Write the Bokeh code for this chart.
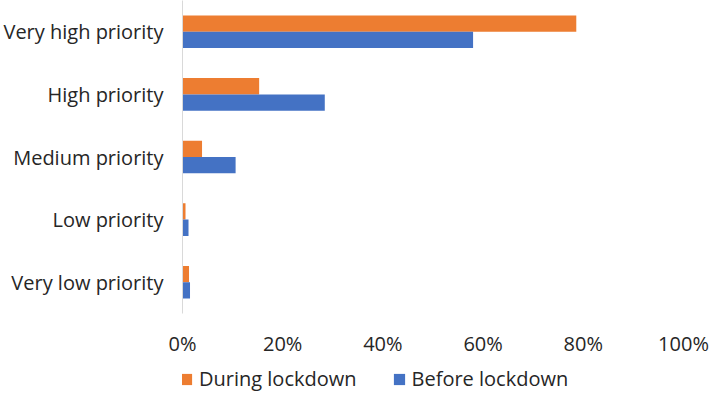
from bokeh.plotting import figure
from bokeh.layouts import column
from bokeh.models import (FactorRange, Range1d, FixedTicker, PrintfTickFormatter,
                          Legend, LegendItem, ColumnDataSource)
from bokeh.transform import dodge
from bokeh.embed import file_html
from bokeh.resources import INLINE

categories = ["Very high priority", "High priority", "Medium priority",
              "Low priority", "Very low priority"]
during_lockdown = [78.6, 15.3, 3.9, 0.6, 1.3]
before_lockdown = [58.0, 28.4, 10.6, 1.2, 1.5]
x_ticks = [0, 20, 40, 60, 80, 100]
series_names = ["During lockdown", "Before lockdown"]
series_colors = ["#ED7D31", "#4472C4"]

FONT = "Open Sans"
TEXT_COLOR = "#262626"

src = ColumnDataSource(dict(cat=categories, during=during_lockdown, before=before_lockdown))

p = figure(width=709, height=359,
           y_range=FactorRange(*reversed(categories)),
           x_range=Range1d(0, 100),
           output_backend="svg", toolbar_location=None,
           min_border_left=177, min_border_right=26,
           min_border_top=0, min_border_bottom=0)
p.outline_line_color = None
p.xgrid.visible = False
p.ygrid.visible = False
p.background_fill_color = "white"
p.border_fill_color = "white"

bar_h = 0.26
r1 = p.hbar(y=dodge("cat", bar_h / 2, range=p.y_range), left=0, right="during",
            height=bar_h, source=src, fill_color=series_colors[0], line_color=None)
r2 = p.hbar(y=dodge("cat", -bar_h / 2, range=p.y_range), left=0, right="before",
            height=bar_h, source=src, fill_color=series_colors[1], line_color=None)

# x axis
p.xaxis.ticker = FixedTicker(ticks=x_ticks)
p.xaxis.formatter = PrintfTickFormatter(format="%d%%")
p.xaxis.axis_line_color = None
p.xaxis.major_tick_line_color = None
p.xaxis.minor_tick_line_color = None
p.xaxis.major_tick_out = 0
p.xaxis.major_tick_in = 0
p.xaxis.major_label_standoff = 16
p.xaxis.major_label_text_font = FONT
p.xaxis.major_label_text_font_size = "20px"
p.xaxis.major_label_text_color = TEXT_COLOR

# y axis
p.yaxis.axis_line_color = "#d9d9d9"
p.yaxis.axis_line_width = 1
p.yaxis.major_tick_line_color = None
p.yaxis.minor_tick_line_color = None
p.yaxis.major_tick_out = 0
p.yaxis.major_tick_in = 0
p.yaxis.major_label_standoff = 19
p.yaxis.major_label_text_font = FONT
p.yaxis.major_label_text_font_size = "20px"
p.yaxis.major_label_text_color = TEXT_COLOR

# legend strip below the chart (its keys come from hidden copies of the two series)
lf = figure(width=709, height=33, x_range=Range1d(0, 100),
            y_range=FactorRange(*reversed(categories)),
            x_axis_location=None,
            output_backend="svg", toolbar_location=None,
            min_border_left=0, min_border_right=0, min_border_top=0, min_border_bottom=0)
lf.axis.visible = False
lf.grid.visible = False
lf.outline_line_color = None
lr1 = lf.hbar(y="cat", left=0, right="during", height=bar_h, source=src,
              fill_color=series_colors[0], line_color=None, visible=False)
lr2 = lf.hbar(y="cat", left=0, right="before", height=bar_h, source=src,
              fill_color=series_colors[1], line_color=None, visible=False)

legend = Legend(items=[LegendItem(label=series_names[0], renderers=[lr1]),
                       LegendItem(label=series_names[1], renderers=[lr2])],
                orientation="horizontal", location=(-3, 0),
                glyph_width=14, glyph_height=14, label_standoff=6, spacing=35,
                padding=0, margin=0, border_line_color=None,
                background_fill_alpha=0,
                label_text_font=FONT, label_text_font_size="20px",
                label_text_color=TEXT_COLOR)
lf.add_layout(legend)

layout = column(p, lf, spacing=0)
open("out.html", "w").write(file_html(layout, INLINE))
